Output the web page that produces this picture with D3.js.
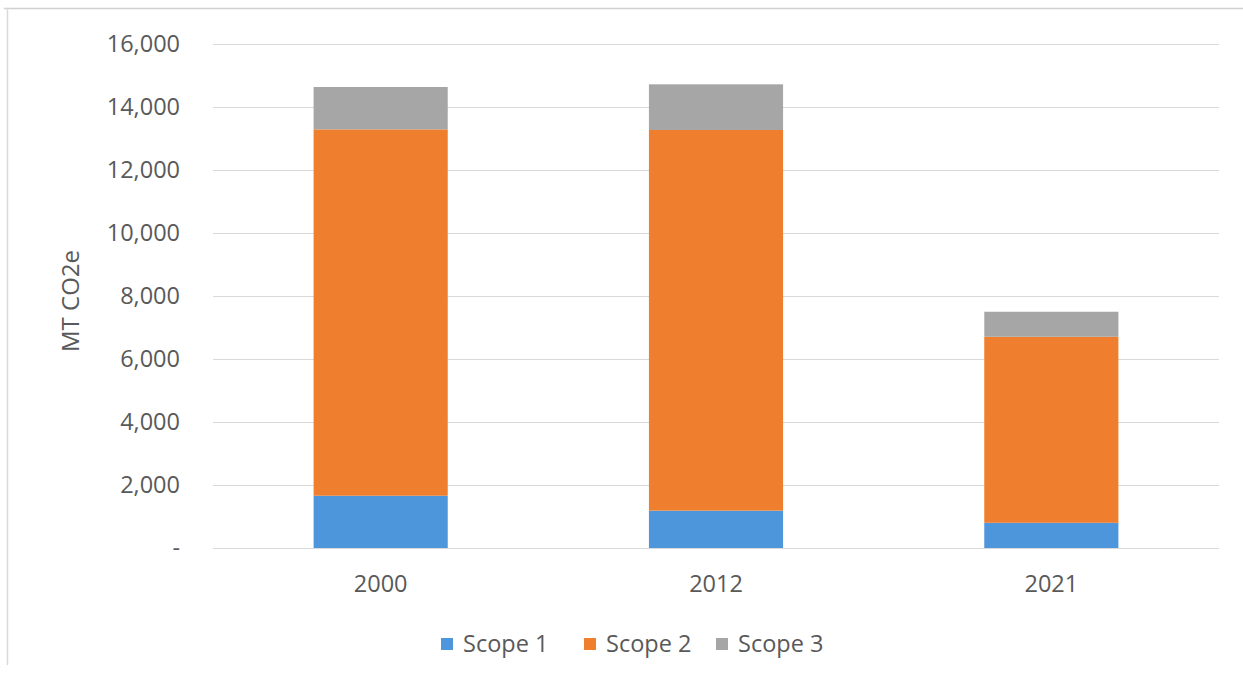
<!DOCTYPE html>
<html>
<head>
<meta charset="utf-8">
<script src="https://cdn.jsdelivr.net/npm/d3@7"></script>
<style>
  html, body { margin: 0; padding: 0; background: #ffffff; }
  svg { display: block; }
  text { font-family: "Open Sans", "Liberation Sans", sans-serif; fill: #595959; }
</style>
</head>
<body>
<svg id="chart" width="1243" height="689"></svg>
<script>
const categories = ["2000", "2012", "2021"];
const seriesNames = ["Scope 1", "Scope 2", "Scope 3"];
const scope1 = [1660, 1185, 800];
const scope2 = [11630, 12085, 5905];
const scope3 = [1345, 1450, 795];
const yTicks = [0, 2000, 4000, 6000, 8000, 10000, 12000, 14000, 16000];
const colors = ["#4d96dc", "#ef7f2f", "#a6a6a6"];

const svg = d3.select("#chart");
const W = 1243, H = 689;

// chart frame
svg.append("line").attr("x1", 4).attr("x2", W).attr("y1", 8.5).attr("y2", 8.5)
  .attr("stroke", "#d0d0d0").attr("stroke-width", 1.5);
svg.append("line").attr("x1", 7.5).attr("x2", 7.5).attr("y1", 8).attr("y2", 665)
  .attr("stroke", "#d9d9d9").attr("stroke-width", 1.5);

const x = d3.scaleBand().domain(categories).range([213, 1219])
  .paddingInner(0.6).paddingOuter(0.3);
const y = d3.scaleLinear().domain([0, 16000]).range([548, 44]);

const rows = categories.map((c, i) => ({cat: c, "Scope 1": scope1[i], "Scope 2": scope2[i], "Scope 3": scope3[i]}));
const stack = d3.stack().keys(seriesNames)(rows);

// gridlines
const yAxis = d3.axisLeft(y).tickValues(yTicks).tickSize(-(1219 - 213)).tickPadding(33)
  .tickFormat(d => d === 0 ? "-" : d3.format(",")(d));
const gy = svg.append("g").attr("transform", "translate(213,0)").call(yAxis);
gy.select(".domain").remove();
gy.selectAll(".tick line").attr("stroke", "#d9d9d9").attr("stroke-width", 1);
gy.selectAll(".tick text").attr("font-size", 23.5).attr("fill", "#595959")
  .attr("font-family", "'Open Sans', sans-serif");

// bars
svg.append("g").selectAll("g").data(stack).join("g")
  .attr("fill", (d, i) => colors[i])
  .selectAll("rect").data(d => d).join("rect")
  .attr("x", d => x(d.data.cat))
  .attr("width", x.bandwidth())
  .attr("y", d => y(d[1]))
  .attr("height", d => y(d[0]) - y(d[1]));

// x axis
const xAxis = d3.axisBottom(x).tickSize(0).tickPadding(27);
const gx = svg.append("g").attr("transform", "translate(0,548)").call(xAxis);
gx.select(".domain").remove();
gx.selectAll(".tick text").attr("font-size", 23.5).attr("fill", "#595959")
  .attr("font-family", "'Open Sans', sans-serif");

// y title
svg.append("text").attr("transform", "translate(79,301) rotate(-90)")
  .attr("text-anchor", "middle").attr("font-size", 24).attr("fill", "#595959")
  .text("MT CO2e");

// legend
const legendX = [441, 584, 716];
const lg = svg.append("g").selectAll("g").data(seriesNames).join("g")
  .attr("transform", (d, i) => `translate(${legendX[i]},638)`);
lg.append("rect").attr("width", 12).attr("height", 12).attr("fill", (d, i) => colors[i]);
lg.append("text").attr("x", 22).attr("y", 14).attr("font-size", 23.5).attr("fill", "#595959").text(d => d);
</script>
</body>
</html>
